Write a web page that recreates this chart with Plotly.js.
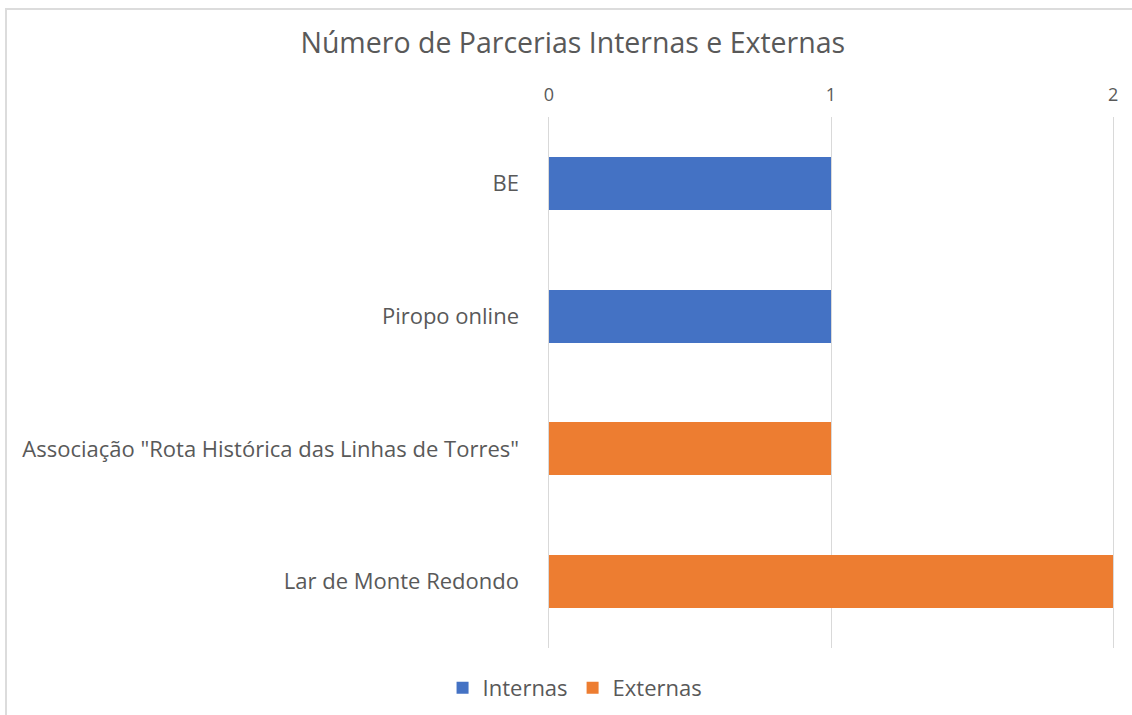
<!DOCTYPE html>
<html>
<head>
<meta charset="utf-8">
<script src="https://cdn.plot.ly/plotly-3.0.1.min.js"></script>
<style>
  html, body { margin: 0; padding: 0; background: #fff; }
  #wrap { position: relative; width: 1132px; height: 715px; overflow: hidden; }
  #chart { width: 1132px; height: 715px; }
  #frame { position: absolute; left: 5px; top: 8px; right: -10px; bottom: -10px;
           border-left: 2px solid #dcdcdc; border-top: 2px solid #dcdcdc; pointer-events: none; }
</style>
</head>
<body>
<div id="wrap">
  <div id="chart"></div>
  <div id="frame"></div>
</div>
<script>
const categories = ['BE', 'Piropo online', 'Associação "Rota Histórica das Linhas de Torres"', 'Lar de Monte Redondo'];
const internas = [1, 1, null, null];
const externas = [null, null, 1, 2];
const xTicks = [0, 1, 2];

const font = 'Open Sans, Noto Sans, sans-serif';
const textColor = '#595959';

const data = [
  { type: 'bar', orientation: 'h', name: 'Internas', y: categories, x: internas,
    marker: { color: '#4472C4' }, hoverinfo: 'x+y' },
  { type: 'bar', orientation: 'h', name: 'Externas', y: categories, x: externas,
    marker: { color: '#ED7D31' }, hoverinfo: 'x+y' }
];

const layout = {
  width: 1132, height: 715,
  paper_bgcolor: '#fff', plot_bgcolor: '#fff',
  margin: { l: 546, r: 16, t: 117, b: 67 },
  barmode: 'stack',
  bargap: 0.6,
  font: { family: font, color: textColor, size: 17 },
  title: { text: 'Número de Parcerias Internas e Externas', x: 0.506, xref: 'container', xanchor: 'center',
           y: 0.94, yref: 'container', yanchor: 'middle',
           font: { family: font, size: 28.5, color: textColor } },
  xaxis: {
    side: 'top', range: [-0.01, 2.01], tickvals: xTicks, ticktext: xTicks.map(String),
    showgrid: true, gridcolor: '#d9d9d9', gridwidth: 1, zeroline: false,
    showline: false, ticks: '', tickfont: { size: 18, color: textColor },
    ticklabelstandoff: 11, fixedrange: true
  },
  yaxis: {
    type: 'category', autorange: 'reversed', showgrid: false, zeroline: false,
    showline: false, ticks: '', tickfont: { size: 22, color: textColor },
    ticklabelstandoff: 26, fixedrange: true
  },
  showlegend: true,
  legend: { orientation: 'h', x: 0.508, xref: 'container', xanchor: 'center',
            y: 0.038, yref: 'container', yanchor: 'middle',
            font: { size: 22, color: textColor }, traceorder: 'normal' }
};

Plotly.newPlot('chart', data, layout, { displayModeBar: false, staticPlot: true });
</script>
</body>
</html>
